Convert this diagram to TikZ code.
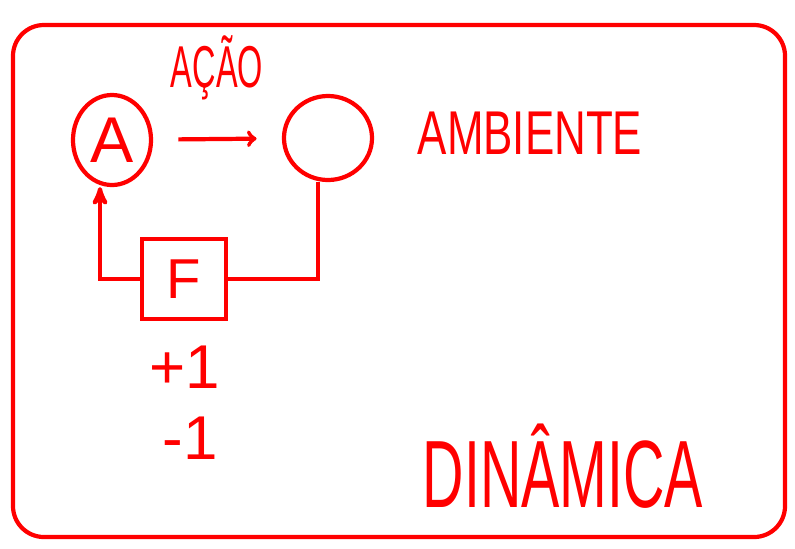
\documentclass[tikz,border=0pt]{standalone}
\usepackage{fontspec}
\setmainfont{Liberation Sans}
\usetikzlibrary{arrows,positioning,shapes.geometric}
\tikzset{
    %Define standard arrow tip
    >=stealth',
    %Define style for circles
    circ/.style={
           ellipse,
           draw=red,
           line width=3pt,
           minimum width=1.95cm,
           minimum height=2.25cm,
           inner sep=0pt},
    % Define style for the box
    caixa/.style={
           rectangle,
           draw=red,
           line width=3pt,
           minimum width=2.1cm,
           minimum height=2cm},
    % Define style for written words
    escrita/.style={
           text=red,
           transform shape,
           inner sep=0pt},
    % Define line style
    fio/.style={
           draw=red,
           line width=3pt}
}
\begin{document}
\begin{tikzpicture}[x=0.025cm, y=-0.025cm]
  \useasboundingbox (0,0) rectangle (795,548);
  % frame
  \draw[fio, rounded corners=22pt] (13,25) rectangle (785,537);
  \node[circ, font=\fontsize{46}{46}\selectfont, text=red] (agente) at (112,140) {A};
  \node[circ, minimum width=2.2cm, minimum height=2.1cm] (ambiente) at (328,138) {};
  \node[caixa, font=\fontsize{40}{40}\selectfont, text=red] (f) at (184,279) {F};
  \node[escrita, xscale=0.55, font=\fontsize{42}{42}\selectfont] (acao) at (217,68) {AÇÃO};
  \node[escrita, xscale=0.71, font=\fontsize{44}{44}\selectfont] (amb) at (530,133) {AMBIENTE};
  \node[escrita, xscale=0.6, font=\fontsize{68}{68}\selectfont] (din) at (563,466) {DINÂMICA};
  \node[escrita, font=\fontsize{44}{44}\selectfont] (mais) at (185,367) {+1};
  \node[escrita, font=\fontsize{44}{44}\selectfont] (menos) at (190,438) {-1};
  % connectors
  \draw[fio, -to, shorten <=18pt, shorten >=18pt] (agente) -- (ambiente);
  \draw[fio] (f.east) -| ([xshift=-0.25cm]ambiente.south);
  \draw[fio, ->] (f.west) -| ([xshift=-0.3cm]agente.south);
\end{tikzpicture}
\end{document}
